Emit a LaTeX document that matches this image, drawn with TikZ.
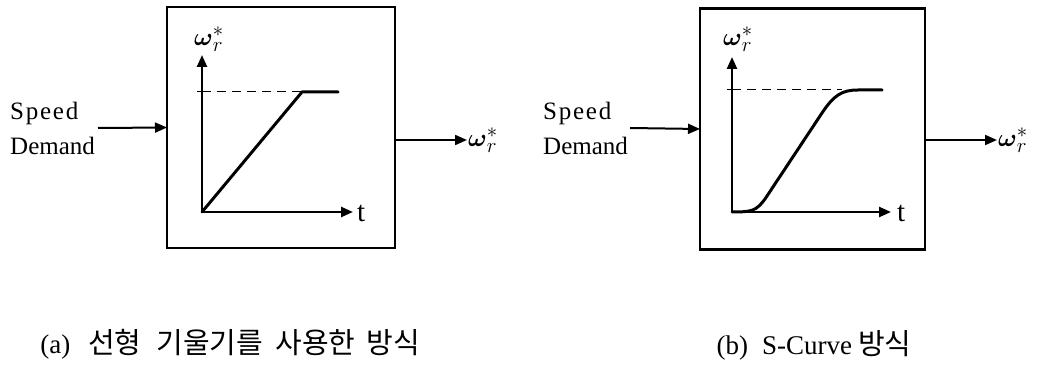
\documentclass[tikz,border=0pt]{standalone}
\usepackage{amsmath}
\usepackage{fontspec}
\setmainfont{Liberation Serif}
\newfontfamily\kr{Noto Sans CJK KR}
\usetikzlibrary{arrows.meta}
\tikzset{
  blk/.style={draw, line width=2.2pt, minimum width=#1, minimum height=241pt, inner sep=0pt, outer sep=0pt},
  sd/.style={align=left, inner sep=2pt, font=\fontsize{25}{35}\selectfont},
  axis/.style={line width=2.4pt, -{Triangle[length=12pt,width=10pt]}},
  conn/.style={line width=2pt, -{Triangle[length=12pt,width=10pt]}},
  curve/.style={line width=3pt, line join=round, line cap=round},
  ref/.style={line width=1pt, dash pattern=on 9pt off 6pt},
  sym/.style={inner sep=1pt, font=\fontsize{30}{32}\selectfont},
  tlbl/.style={inner sep=0pt, font=\fontsize{29}{32}\selectfont},
  captxt/.style={inner sep=0pt, font=\fontsize{27}{30}\selectfont},
}
\newcommand{\omref}{$\boldsymbol{\omega}_{r}^{*}$}
\newcommand{\sdtext}{{\addfontfeatures{LetterSpace=7}Speed}\\Demand}
\newcommand{\hg}[1]{{\kr\fontsize{29}{30}\selectfont #1}}
\begin{document}
\begin{tikzpicture}[x=1pt,y=-1pt]
\useasboundingbox[fill=white] (0,0) rectangle (1047,366);

% ---------- (a) ----------
\node[blk=228pt] (boxA) at (281,127.5) {};
\node[sd, anchor=west] (sdA) at (8,128) {\sdtext};
\draw[conn] (sdA.east -| 98,0) -- (boxA.west);
\coordinate (oA) at (202,212);
\coordinate (yA) at (202,55);
\coordinate (xA) at (353,212);
\draw[axis] (oA) -- (yA);
\draw[axis] (oA) -- (xA);
\node[sym] (wA) at (209,39) {\omref};
\node[tlbl, anchor=west] (tA) at (357,213) {t};
\draw[line width=1pt] (197,92) -- (207,92);
\draw[ref] (oA |- 0,92) -- (302,92);
\draw[curve] (oA) -- (302,92) -- (338,92);
\node[sym, anchor=west] (oAo) at (467,140) {\omref};
\draw[conn] (boxA.east |- oAo.west) -- (oAo.west);
\node[captxt] (capA) at (230,344) {(a)\hspace{18pt}\hg{선형}\hspace{15pt}\hg{기울기를}\hspace{12pt}\hg{사용한}\hspace{11pt}\hg{방식}};

% ---------- (b) ----------
\node[blk=225pt] (boxB) at (812.5,129) {};
\node[sd, anchor=west] (sdB) at (541,128) {\sdtext};
\draw[conn] (sdB.east -| 630,0) -- (boxB.west);
\coordinate (oB) at (732,212);
\coordinate (yB) at (732,57);
\coordinate (xB) at (891,212);
\draw[axis] (oB) -- (yB);
\draw[axis] (oB) -- (xB);
\node[sym] (wB) at (738,39) {\omref};
\node[tlbl, anchor=west] (tB) at (897,213) {t};
\draw[line width=1pt] (727,90) -- (737,90);
\draw[ref] (oB |- 0,90) -- (842,90);
\draw[curve] (oB) .. controls (752,212) and (756,211) .. (765,199) -- (822,113)
  .. controls (834,95) and (842,90) .. (858,90) -- (882,90);
\node[sym, anchor=west] (oBo) at (997,140) {\omref};
\draw[conn] (boxB.east |- oBo.west) -- (oBo.west);
\node[captxt] (capB) at (814,345) {(b)\hspace{14pt}S-Curve\hspace{6pt}\hg{방식}};
\end{tikzpicture}
\end{document}
